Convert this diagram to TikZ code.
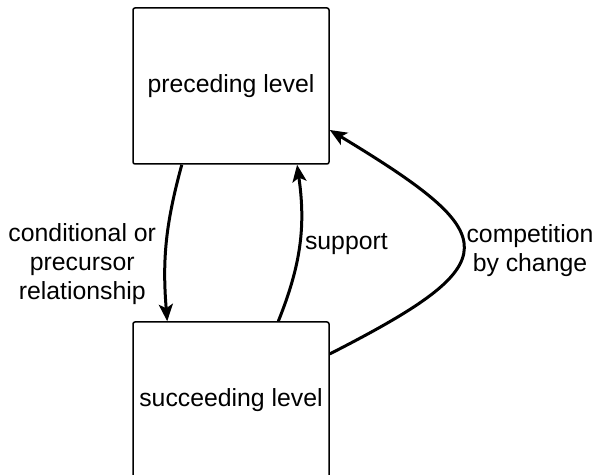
\documentclass[tikz,border=0pt]{standalone}
\usepackage{fontspec}
\setmainfont{Liberation Sans}
\usepackage{tikz}
\usetikzlibrary{arrows.meta,positioning}
\tikzset{
  level/.style = {draw=black, line width=0.75pt, rounded corners=1pt, fill=white,
                  minimum width=98pt, minimum height=78pt, inner sep=0pt,
                  font=\fontsize{12.4}{14.5}\selectfont},
  ar/.style    = {-{Stealth[length=8.5pt, width=7pt, inset=2pt]}, line width=1.5pt},
  lbl/.style   = {align=center, inner sep=2pt, font=\fontsize{12.4}{14.5}\selectfont},
}
\begin{document}
\begin{tikzpicture}[x=0.5pt, y=-0.5pt]
  \useasboundingbox (0,0) rectangle (596,475);
  \node[level] (prec) at (231,86) {preceding level};
  \node[level] (succ) at (231,400) {succeeding level};
  \draw[ar] (prec.238) to[bend right=10]
    node[lbl, left, pos=0.6, xshift=-2pt, yshift=-3.5pt] {conditional or\\precursor\\relationship} (succ.129);
  \draw[ar] (succ.59) to[bend right=15]
    node[lbl, right, pos=0.5] {support} (prec.-50);
  \draw[ar] (succ.25) .. controls (510,262) and (505,236) ..
    node[lbl, right, inner sep=1pt, yshift=-1.5pt] {competition\\by change} (prec.-24);
\end{tikzpicture}
\end{document}
